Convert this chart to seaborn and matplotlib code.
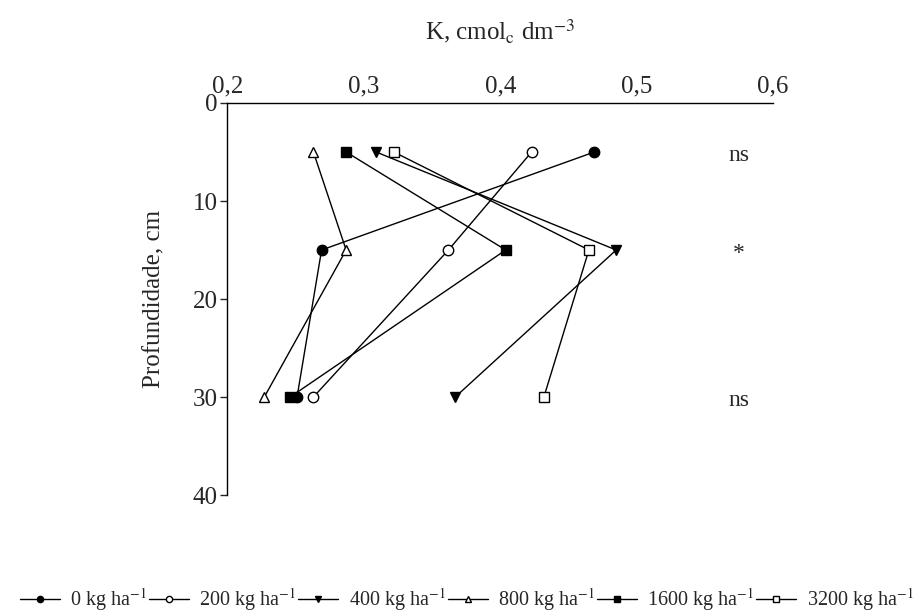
import numpy as np
import pandas as pd
import matplotlib
matplotlib.use("Agg")
import matplotlib.pyplot as plt
import seaborn as sns

# depth of each sampling layer (cm)
depth = [5, 15, 30]

# K (cmol_c dm-3) per dose of treatment
k_0 = [0.469, 0.269, 0.251]
k_200 = [0.423, 0.362, 0.263]
k_400 = [0.309, 0.485, 0.367]
k_800 = [0.263, 0.287, 0.227]
k_1600 = [0.287, 0.404, 0.246]
k_3200 = [0.322, 0.465, 0.432]

doses = ["0", "200", "400", "800", "1600", "3200"]
signif = ["ns", "*", "ns"]

sns.set_theme(style="white")
plt.rcParams["font.family"] = ["Liberation Serif", "DejaVu Serif"]
plt.rcParams["mathtext.fontset"] = "stix"

fig = plt.figure(figsize=(9.24, 6.16), dpi=100)
ax = fig.add_axes([0.2462, 0.1964, 0.5904, 0.6364])

series = [k_0, k_200, k_400, k_800, k_1600, k_3200]
markers = ["o", "o", "v", "^", "s", "s"]
faces = ["black", "white", "black", "white", "black", "white"]

for dose, vals, mk, fc in zip(doses, series, markers, faces):
    df = pd.DataFrame({"K": vals, "depth": depth})
    sns.lineplot(
        data=df, x="K", y="depth", sort=False, estimator=None, ax=ax,
        color="black", lw=1, marker=mk, markersize=7.5,
        markerfacecolor=fc, markeredgecolor="black", markeredgewidth=1,
        label=f"{dose} kg ha$^{{-1}}$", legend=False,
    )

for d, s in zip(depth, signif):
    ax.text(0.575, d + 0.4, s, ha="center", va="center", fontsize=17)

ax.set_xlim(0.2, 0.6)
ax.set_ylim(40, 0)
ax.set_xticks([0.2, 0.3, 0.4, 0.5, 0.6])
ax.set_xticklabels(["0,2", "0,3", "0,4", "0,5", "0,6"])
ax.set_yticks([0, 10, 20, 30, 40])
ax.xaxis.tick_top()
ax.xaxis.set_label_position("top")
ax.tick_params(axis="x", length=0, pad=4, labelsize=18)
ax.tick_params(axis="y", left=True, length=5, width=1, direction="out", labelsize=18, pad=2)
ax.spines["right"].set_visible(False)
ax.spines["bottom"].set_visible(False)
for sp in ["top", "left"]:
    ax.spines[sp].set_color("black")
    ax.spines[sp].set_linewidth(1)

ax.set_xlabel("K, cmol$_\\mathrm{c}$ dm$^{-3}$", fontsize=18, labelpad=26)
ax.set_ylabel("Profundidade, cm", fontsize=18, labelpad=20)

handles, labels = ax.get_legend_handles_labels()
fig.legend(
    handles, labels, loc="lower center", bbox_to_anchor=(0.505, -0.025), ncol=6,
    frameon=False, fontsize=14.5, markerscale=0.6, handlelength=2.0,
    handletextpad=0.5, columnspacing=0.1,
)

fig.savefig("out.png", dpi=100)
